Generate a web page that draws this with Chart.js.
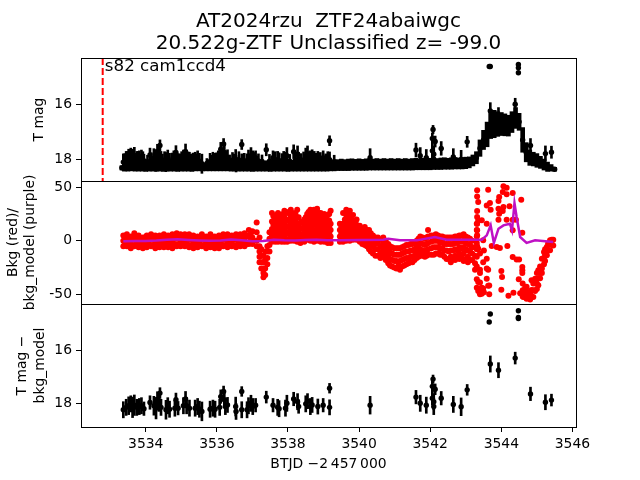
<!DOCTYPE html>
<html>
<head>
<meta charset="utf-8">
<style>body { margin: 0; background: #fff; }</style>
<script src="https://cdn.jsdelivr.net/npm/chart.js@4"></script>
</head>
<body>
<canvas id="chart" width="640" height="480"></canvas>
<script>
const titleLines = ['AT2024rzu  ZTF24abaiwgc', '20.522g-ZTF Unclassified z= -99.0'];
const sectorLabel = 's82 cam1ccd4';
const sectorLine = 3532.79;

// points with real error bars, same epochs in top and bottom panel
const obsX = [3533.37,3533.45,3533.52,3533.58,3533.63,3533.68,3533.75,3533.82,3533.88,3533.95,3534.12,3534.23,3534.29,3534.33,3534.37,3534.40,3534.43,3534.57,3534.62,3534.67,3534.82,3534.85,3534.91,3535.06,3535.12,3535.15,3535.23,3535.39,3535.46,3535.51,3535.58,3535.81,3535.89,3535.95,3536.08,3536.11,3536.19,3536.21,3536.24,3536.30,3536.53,3536.54,3536.70,3536.70,3536.85,3536.89,3536.96,3537.01,3537.09,3537.39,3537.58,3537.71,3537.75,3537.93,3537.97,3538.16,3538.27,3538.30,3538.50,3538.55,3538.63,3538.68,3538.84,3538.99,3539.17,3539.17,3540.31,3541.60,3541.72,3541.89,3542.08,3542.06,3542.14,3542.06,3542.10,3542.10,3542.31,3542.65,3542.87,3543.04,3543.66,3543.69,3543.69,3543.92,3544.39,3544.48,3544.48,3544.48,3544.82,3545.24,3545.41];
const diffMag = [18.22,18.13,18.07,18.00,18.13,18.05,18.13,18.10,18.07,18.18,17.95,18.07,18.16,17.85,17.98,17.60,18.13,18.22,18.07,18.20,18.16,17.85,18.16,18.07,17.82,18.07,18.16,18.16,18.10,18.20,18.28,18.20,18.16,18.20,18.13,17.73,17.54,17.85,18.10,18.04,18.10,18.28,17.54,18.22,18.22,18.07,17.98,18.10,18.05,17.75,18.05,18.13,18.18,18.16,17.98,17.82,17.92,18.10,18.00,17.90,18.10,18.04,18.10,18.05,17.42,18.13,18.05,17.75,17.98,18.05,17.08,17.35,17.46,17.79,17.92,18.10,17.79,18.02,18.11,17.48,14.96,14.66,16.52,16.75,16.30,14.54,14.79,14.83,17.63,17.94,17.86];
const diffErr = [.30,.30,.33,.30,.38,.38,.30,.30,.30,.25,.25,.35,.40,.30,.30,.20,.30,.35,.30,.30,.30,.25,.25,.30,.28,.30,.30,.30,.30,.30,.35,.30,.30,.30,.30,.25,.20,.30,.30,.28,.35,.30,.18,.30,.30,.30,.30,.30,.25,.22,.25,.30,.30,.30,.30,.25,.30,.25,.30,.28,.30,.28,.28,.25,.18,.28,.33,.25,.30,.30,.15,.20,.20,.25,.30,.30,.25,.30,.33,.20,.05,.05,.30,.28,.22,.05,.05,.05,.25,.28,.22];
const topMag = [18.11,18.02,17.97,17.90,18.02,17.95,18.02,18.00,17.97,18.07,17.85,17.97,18.05,17.76,17.88,17.50,18.02,18.11,17.97,18.09,18.05,17.76,18.05,17.97,17.73,17.97,18.05,18.05,18.00,18.09,18.17,18.09,18.05,18.09,18.02,17.64,17.45,17.76,18.00,17.94,18.00,18.17,17.47,18.11,18.11,17.97,17.88,18.00,17.95,17.66,17.95,18.02,18.07,18.05,17.88,17.73,17.82,18.00,17.90,17.80,18.00,17.94,18.00,17.95,17.33,18.02,17.95,17.67,17.88,17.95,16.92,17.25,17.36,17.70,17.82,18.00,17.61,17.92,18.01,17.37,14.62,14.62,16.24,16.40,16.00,14.55,14.67,14.85,17.50,17.80,17.75];

// faint extra spikes that only show in the upper panel
const spikeX = [3533.41,3533.49,3533.56,3533.66,3533.72,3533.79,3533.85,3533.92,3534.05,3534.16,3534.26,3534.47,3534.53,3534.74,3534.79,3534.96,3535.01,3535.09,3535.19,3535.28,3535.33,3535.43,3535.72,3535.85,3535.99,3536.04,3536.15,3536.27,3536.36,3536.44,3536.49,3536.62,3536.77,3536.92,3537.05,3537.17,3537.27,3537.48,3537.64,3537.83,3537.88,3538.05,3538.21,3538.37,3538.44,3538.59,3538.74,3538.79,3538.91,3539.06,3539.12,3539.3];
const spikeMag = [18.08,18.02,18.05,17.98,18.06,18.02,18.08,18.03,18.10,18.05,18.00,18.08,18.03,18.06,18.02,18.07,18.03,18.00,18.04,18.08,18.06,18.07,18.16,18.10,18.05,18.02,18.03,18.06,18.09,18.04,18.07,18.03,18.06,18.08,18.04,18.07,18.09,18.08,18.03,18.06,18.02,18.08,18.04,18.06,18.03,18.05,18.02,18.06,18.04,18.07,18.03,18.10];
const spikeErr = [.28,.30,.28,.32,.27,.30,.26,.30,.24,.28,.30,.26,.30,.28,.32,.26,.30,.33,.30,.26,.28,.26,.18,.24,.28,.32,.30,.26,.24,.28,.25,.30,.27,.25,.28,.26,.24,.25,.30,.26,.30,.25,.29,.26,.29,.27,.30,.27,.28,.26,.30,.24];

// the dense band of the upper panel
const bandX = [3533.33,3533.4,3533.5,3533.6,3533.7,3533.8,3533.9,3534.0,3534.1,3534.2,3534.3,3534.4,3534.5,3534.6,3534.7,3534.8,3534.9,3535.0,3535.1,3535.2,3535.3,3535.4,3535.5,3535.6,3535.7,3535.8,3535.9,3536.0,3536.1,3536.2,3536.3,3536.4,3536.5,3536.6,3536.7,3536.8,3536.9,3537.0,3537.1,3537.2,3537.3,3537.4,3537.5,3537.6,3537.7,3537.8,3537.9,3538.0,3538.1,3538.2,3538.3,3538.4,3538.5,3538.6,3538.7,3538.8,3538.9,3539.0,3539.1,3539.2,3539.3,3539.4,3539.5,3539.6,3539.7,3539.8,3539.9,3540.0,3540.1,3540.2,3540.3,3540.4,3540.5,3540.6,3540.7,3540.8,3540.9,3541.0,3541.1,3541.2,3541.3,3541.4,3541.5,3541.6,3541.7,3541.8,3541.9,3542.0,3542.1,3542.2,3542.3,3542.4,3542.5,3542.6,3542.7,3542.8,3542.9,3543.0,3543.1,3543.2,3543.3,3543.4,3543.5,3543.6,3543.7,3543.8,3543.9,3544.0,3544.1,3544.2,3544.3,3544.4,3544.5,3544.6,3544.7,3544.8,3544.9,3545.0,3545.1,3545.2,3545.3,3545.4,3545.5];
const bandMag = [18.32,18.28,18.26,18.24,18.25,18.26,18.24,18.27,18.25,18.24,18.26,18.25,18.27,18.25,18.24,18.26,18.27,18.25,18.24,18.26,18.27,18.26,18.28,18.29,18.29,18.28,18.26,18.25,18.24,18.25,18.26,18.25,18.24,18.26,18.25,18.24,18.26,18.27,18.25,18.24,18.26,18.25,18.27,18.25,18.24,18.26,18.25,18.27,18.24,18.25,18.26,18.24,18.25,18.24,18.26,18.25,18.24,18.25,18.26,18.24,18.23,18.22,18.21,18.22,18.21,18.20,18.21,18.20,18.21,18.20,18.19,18.20,18.19,18.20,18.19,18.20,18.19,18.20,18.19,18.20,18.19,18.20,18.19,18.18,18.19,18.18,18.19,18.18,18.17,18.18,18.17,18.16,18.17,18.16,18.15,18.16,18.15,18.14,18.12,18.05,17.95,17.60,17.30,17.10,16.75,16.72,16.72,16.72,16.75,16.78,16.65,16.50,16.64,17.30,17.75,17.95,18.00,18.05,18.12,18.20,18.28,18.32,18.37];
const bandErr = [.08,.16,.18,.19,.19,.18,.20,.18,.19,.20,.18,.19,.18,.19,.20,.18,.18,.19,.20,.18,.18,.17,.15,.14,.14,.15,.17,.18,.19,.18,.17,.19,.20,.18,.19,.20,.18,.18,.19,.20,.18,.19,.18,.19,.20,.18,.19,.18,.20,.19,.18,.20,.19,.20,.18,.19,.20,.19,.18,.19,.20,.20,.21,.20,.21,.21,.20,.21,.20,.21,.21,.20,.21,.20,.21,.20,.21,.20,.21,.20,.21,.20,.21,.21,.20,.21,.20,.21,.21,.20,.21,.21,.20,.21,.21,.20,.21,.21,.20,.20,.22,.30,.35,.45,.50,.50,.45,.42,.40,.38,.38,.38,.31,.45,.35,.28,.25,.25,.22,.20,.17,.12,.07];

// each row: time, then the background values seen at that time
const bkgColumns = [
[3533.37,5,0,-5],[3533.47,6,1,-5],[3533.58,4,-2,-7],[3533.68,7,2,-5],[3533.8,5,0,-6],[3533.92,3,-2,-7],[3534.03,5,0,-6],[3534.15,6,1,-5],[3534.27,5,-1,-7],[3534.39,5,0,-6],[3534.51,6,1,-6],[3534.63,5,0,-6],[3534.75,6,0,-7],[3534.87,7,2,-5],[3534.98,6,1,-5],[3535.1,6,0,-5],[3535.22,6,1,-6],[3535.34,5,0,-7],[3535.46,4,-1,-6],[3535.58,6,1,-5],[3535.7,4,-1,-7],[3535.82,6,0,-6],[3535.94,4,-1,-7],[3536.06,5,0,-7],[3536.18,6,1,-5],[3536.3,6,0,-6],[3536.42,5,0,-5],[3536.54,6,1,-6],[3536.66,6,1,-5],[3536.78,7,1,-5],[3536.9,10,4,-3],[3537.0,9,3,-3],
[3533.42,3,-3],[3533.53,2,-3],[3533.63,3,-4],[3533.74,4,-3],[3533.86,2,-4],[3533.97,3,-3],[3534.09,3,-3],[3534.21,3,-4],[3534.33,3,-4],[3534.45,3,-3],[3534.57,4,-3],[3534.69,3,-4],[3534.81,4,-3],[3534.93,4,-3],[3535.04,3,-3],[3535.16,4,-3],[3535.28,3,-4],[3535.4,2,-4],[3535.52,3,-3],[3535.64,2,-4],[3535.76,3,-4],[3535.88,2,-4],[3536.0,3,-4],[3536.12,3,-3],[3536.24,4,-4],[3536.36,3,-3],[3536.48,3,-4],[3536.6,3,-3],[3536.72,4,-3],[3536.84,5,-3],[3536.95,6,0],
[3537.12,17,8,0,-5],[3537.2,3,-5,-10,-15,-20],[3537.25,-8,-14,-20,-26],[3537.31,-14,-20,-26,-30,-34],[3537.36,-10,-18,-26,-32],[3537.42,-5,-10,-16,-22],[3537.48,8,2,-4,-10],
[3537.55,26,18,11,5,-1],[3537.64,21,15,9,3,-1],[3537.72,26,20,14,8,2,-1],[3537.82,22,16,10,4,-1],[3537.9,28,22,16,10,4,-1],[3537.98,26,19,13,7,1,-1],[3538.08,29,23,17,11,5,0],[3538.17,24,18,12,6,0],[3538.26,29,22,16,10,4,-1],[3538.35,17,11,5,-1,-2],[3538.46,20,14,8,2,-1],[3538.54,25,19,13,7,1],[3538.63,29,23,17,11,5,0],[3538.73,29,22,16,10,4,-1],[3538.82,30,24,18,12,6,0],[3538.92,20,26,14,8,2,-1],[3539.02,25,19,13,7,1,-1],[3539.12,18,24,12,6,0,-2],[3539.2,28,16,10,4,-2],
[3537.59,23,15,8,2],[3537.68,24,17,11,6,0],[3537.77,24,17,11,5,0],[3537.86,25,19,13,7,1],[3537.94,27,19,13,7,1],[3538.03,27,20,14,8,2],[3538.12,26,20,14,8,2],[3538.21,26,20,15,9,3],[3538.3,22,13,7,1],[3538.4,18,12,6,0],[3538.5,22,16,10,4],[3538.58,27,21,15,9,3],[3538.68,26,20,14,8,2],[3538.77,27,21,15,9,3],[3538.87,26,22,16,10,4],[3538.97,22,16,10,4,0],[3539.07,22,16,9,3],[3539.16,25,19,13,7,1],
[3539.46,16,10,4,-1],[3539.55,26,16,10,4,-1],[3539.64,24,29,16,10,4,0],[3539.74,28,22,16,10,4,0],[3539.83,24,16,10,4,1],[3539.93,20,15,10,4,1],[3540.02,14,9,4,-1],[3540.16,13,8,3,-4],[3540.28,10,4,-2,-8],[3540.39,5,0,-5,-12],[3540.53,3,-2,-8,-14],
[3539.5,13,7,2],[3539.6,20,13,7,2],[3539.69,25,19,13,7,2],[3539.79,20,13,7,2],[3539.88,18,12,7,2],[3539.98,12,7,2],[3540.09,11,5,0,-3],[3540.22,10,5,0,-5],[3540.33,7,2,-4,-10],[3540.46,3,-3,-8,-14],[3540.6,1,-5,-11,-16],[3540.75,0,-6,-12,-18],[3540.87,-5,-11,-17,-23],[3540.99,-7,-13,-19,-25],[3541.1,-7,-13,-20,-24],[3541.21,-6,-12,-18,-24],[3541.33,-4,-10,-16,-22],[3541.45,-3,-9,-15,-20],[3541.56,-2,-8,-14,-18],[3541.67,2,-4,-10,-15],[3541.79,3,-3,-9,-14],[3541.9,3,-3,-9,-14],[3542.03,5,-1,-7,-13],[3542.16,6,0,-6,-12],[3542.28,4,-2,-8,-13],[3542.4,3,-3,-9,-15],[3542.52,3,-3,-10,-17],[3542.64,3,-3,-9,-17],[3542.76,4,-2,-9,-16],[3542.88,5,-1,-7,-15],[3543.0,4,-2,-8,-17],[3543.12,2,-4,-10,-18],
[3540.68,3,-3,-9,-15],[3540.82,-3,-9,-15,-21],[3540.93,-6,-12,-18,-24],[3541.05,-7,-13,-19,-26],[3541.15,-7,-13,-19,-27],[3541.27,-5,-11,-17,-23],[3541.39,-4,-10,-16,-21],[3541.5,-3,-9,-15,-20],[3541.62,0,-6,-12,-16],[3541.72,4,-2,-8,-14],[3541.85,2,-4,-10,-15],[3541.94,10,4,-2,-8,-13],[3542.1,5,0,-6,-13],[3542.22,5,0,-6,-12],[3542.34,4,-1,-7,-13],[3542.46,3,-3,-9,-17],[3542.58,3,-3,-9,-15,-20],[3542.7,4,-2,-8,-14,-18],[3542.82,5,0,-6,-12,-17],[3542.94,6,0,-6,-12,-19],[3543.06,3,-3,-9,-15,-20],[3543.18,0,-6,-12,-18],
[3543.26,-6,-14,-21,-27],[3543.31,16,10,4,-2,-8,-15,-24,-36,-44],[3543.32,47.2,41.5,27.8,22.2,16,9.8,5.1,-5],[3543.35,36.3,19,-7.4,-38.5,-47],[3543.4,-12,-27,-30,-39,-44.7,-50],[3543.45,19.1,-49.4,-44],[3543.49,0.4,-44.7,-20],[3543.51,-9,-48],[3543.59,16,-16.7,-26,-35.4],[3543.63,47.8,-27,-42],[3543.59,33.1],[3543.66,-41.9,-50],[3543.68,35.3],[3543.7,29.1],[3543.73,-4.9],[3543.87,-5.8],[3543.94,40.9,25.3],[3543.92,37.2,30,19.7],[3543.96,-6.7],[3544.0,-28.2,-45.7],[3544.02,-33.8],[3544.04,45.6,27.8],[3544.06,50.9,31.6],[3544.15,49.6,43.4,19.7],[3544.17,-4.9],[3544.2,-51.3],[3544.23,32.2],[3544.32,44.7,19.7,9.8,-15.1],[3544.34,-48.5],[3544.41,19.7],[3544.43,-17.6],[3544.49,-36],[3544.5,-17.6],[3544.53,-49],[3544.56,38.4],[3544.59,7.6,-24.5,-27.6,-30.1],[3544.6,-40,-46.3,-52],[3544.62,-52.5,-48],[3544.67,-51,-44],[3544.71,-54.1,-43,-48],[3544.76,-53,-47.9],[3544.81,-55,-49],[3544.85,-52,-46,-37],[3544.9,-52.5,-46.3,-40],[3544.95,-47,-35.4],[3545.0,-45,-40,-30],[3545.04,-41.6,-35,-27.6],[3545.09,-35,-30,-24],[3545.14,-30,-26,-16.7],[3545.2,-22,-16,-10.5],[3545.23,-19,-13,-8],[3545.28,-13.6,-8,-5.8],[3545.32,-9,-3,-2.7],[3545.37,-8.9,-3,0.4],[3545.42,-4,1],[3545.46,1,-4.5]
];

const modelX = [3533.37,3533.7,3534.0,3534.3,3534.6,3534.9,3535.2,3535.5,3535.8,3536.1,3536.4,3536.7,3537.0,3537.3,3537.6,3537.9,3538.2,3538.5,3538.8,3539.1,3539.46,3540.68,3540.82,3541.15,3541.62,3542.13,3542.46,3543.45,3543.59,3543.70,3543.79,3543.92,3544.06,3544.24,3544.30,3544.37,3544.43,3544.53,3544.71,3544.95,3545.46];
const modelY = [-0.5,-0.2,-0.3,0.2,1,1.5,0.8,0.3,0,0.2,1.2,0.6,-0.5,-0.2,1,0.5,0.3,0.8,1,0.6,0.4,1,2,0.4,0.4,3.5,1,1,5.1,14.4,-2,11.3,14.4,16,9.8,35.3,22.2,3.5,-2,0.4,-1.1];

const xTicksEvery = 2;
const xAxisTitle = 'BTJD \u22122\u2009457\u2009000';
const topAxisTitle = 'T mag';
const midAxisTitle = ['Bkg (red)/', 'bkg_model (purple)'];
const lowAxisTitle = ['T mag \u2212', 'bkg_model'];

const FONT = 'DejaVu Sans';
Chart.defaults.color = '#000';
Chart.defaults.font.family = FONT;
Chart.defaults.font.size = 13.9;

function errorBars(xs, mags, errs) {
  return xs.map((x, i) => ({ x: x, y: [mags[i] - errs[i], mags[i] + errs[i]] }));
}
function dots(xs, ys) {
  return xs.map((x, i) => ({ x: x, y: ys[i] }));
}
const bkgPoints = bkgColumns.flatMap(c => c.slice(1).map(v => ({ x: c[0], y: v })));

function yScale(min, max, step, reverse, title, titleOffset, titleLine) {
  return {
    type: 'linear', position: 'left', stack: 'panels', stackWeight: 1, stacked: false,
    min: min, max: max, reverse: reverse,
    ticks: { stepSize: step, includeBounds: false, padding: 4, maxRotation: 0, color: '#000' },
    grid: { drawOnChartArea: false, color: '#000', tickLength: 5, tickWidth: 1 },
    border: { color: '#000', width: 1 },
    title: { display: true, text: title, padding: { top: titleOffset, bottom: 0 }, font: { size: 13.9, lineHeight: titleLine } },
    afterFit: s => { s.width = 81; }
  };
}

// frame of each panel and the sector note
const panelFrames = {
  id: 'panelFrames',
  afterDraw(chart) {
    const { ctx, chartArea } = chart;
    ctx.save();
    ctx.strokeStyle = '#000';
    ctx.lineWidth = 1;
    for (const id of ['yTop', 'yMid', 'yLow']) {
      const s = chart.scales[id];
      ctx.strokeRect(chartArea.left + 0.5, Math.round(s.top) + 0.5, chartArea.right - chartArea.left, s.bottom - s.top);
    }
    ctx.fillStyle = '#000';
    ctx.font = '16.7px "' + FONT + '"';
    ctx.textBaseline = 'alphabetic';
    ctx.fillText(sectorLabel, chart.scales.x.getPixelForValue(sectorLine + 0.06), chart.scales.yTop.getPixelForValue(14.78));
    ctx.restore();
  }
};

new Chart(document.getElementById('chart'), {
  type: 'scatter',
  data: {
    datasets: [
      { type: 'line', data: dots([sectorLine, sectorLine], [14.31, 18.8]), yAxisID: 'yTop', borderColor: '#f00', borderWidth: 2, borderDash: [7, 3], pointRadius: 0, order: 1 },
      { type: 'bar', data: errorBars(bandX, bandMag, bandErr), yAxisID: 'yTop', backgroundColor: '#000', barThickness: 4, stack: 'err', order: 3 },
      { type: 'bar', data: errorBars(obsX, topMag, diffErr), yAxisID: 'yTop', backgroundColor: '#000', barThickness: 2, stack: 'err', order: 3 },
      { type: 'bar', data: errorBars(spikeX, spikeMag, spikeErr), yAxisID: 'yTop', backgroundColor: '#000', barThickness: 2, stack: 'err', order: 3 },
      { data: dots(bandX, bandMag), yAxisID: 'yTop', backgroundColor: '#000', borderWidth: 0, pointRadius: 2.7, order: 2 },
      { data: dots(obsX, topMag), yAxisID: 'yTop', backgroundColor: '#000', borderWidth: 0, pointRadius: 2.7, order: 2 },
      { data: dots(spikeX, spikeMag), yAxisID: 'yTop', backgroundColor: '#000', borderWidth: 0, pointRadius: 2.7, order: 2 },
      { data: bkgPoints, yAxisID: 'yMid', backgroundColor: '#f00', borderWidth: 0, pointRadius: 3, order: 5 },
      { type: 'line', data: dots(modelX, modelY), yAxisID: 'yMid', borderColor: '#bf10c4', borderWidth: 2.5, pointRadius: 0, order: 4 },
      { type: 'bar', data: errorBars(obsX, diffMag, diffErr), yAxisID: 'yLow', backgroundColor: '#000', barThickness: 2, stack: 'err', order: 3 },
      { data: dots(obsX, diffMag), yAxisID: 'yLow', backgroundColor: '#000', borderWidth: 0, pointRadius: 2.7, order: 2 }
    ]
  },
  options: {
    responsive: false,
    animation: false,
    layout: { padding: { left: 0, right: 64, top: 0, bottom: 0 } },
    plugins: {
      legend: { display: false },
      tooltip: { enabled: false },
      title: {
        display: true, text: titleLines, fullSize: false, color: '#000',
        font: { size: 20, weight: 'normal', lineHeight: 1.1 }, padding: { top: 11, bottom: 3 }
      }
    },
    scales: {
      x: {
        type: 'linear', offset: false, min: 3532.18, max: 3546.1,
        ticks: { stepSize: xTicksEvery, includeBounds: false, padding: 4, maxRotation: 0, color: '#000', callback: v => String(v) },
        grid: { offset: false, drawOnChartArea: false, color: '#000', tickLength: 5, tickWidth: 1 },
        border: { color: '#000', width: 1 },
        title: { display: true, text: xAxisTitle, padding: { top: 0, bottom: 7 }, font: { size: 13.9 } },
        afterFit: s => { s.height = 53; }
      },
      yLow: yScale(14.29, 18.86, 2, true, lowAxisTitle, 13, 1.3),
      yMid: yScale(-59.1, 55.9, 50, false, midAxisTitle, 5, 1.2),
      yTop: yScale(14.31, 18.8, 2, true, topAxisTitle, 31, 1.2)
    }
  },
  plugins: [panelFrames]
});
</script>
</body>
</html>
